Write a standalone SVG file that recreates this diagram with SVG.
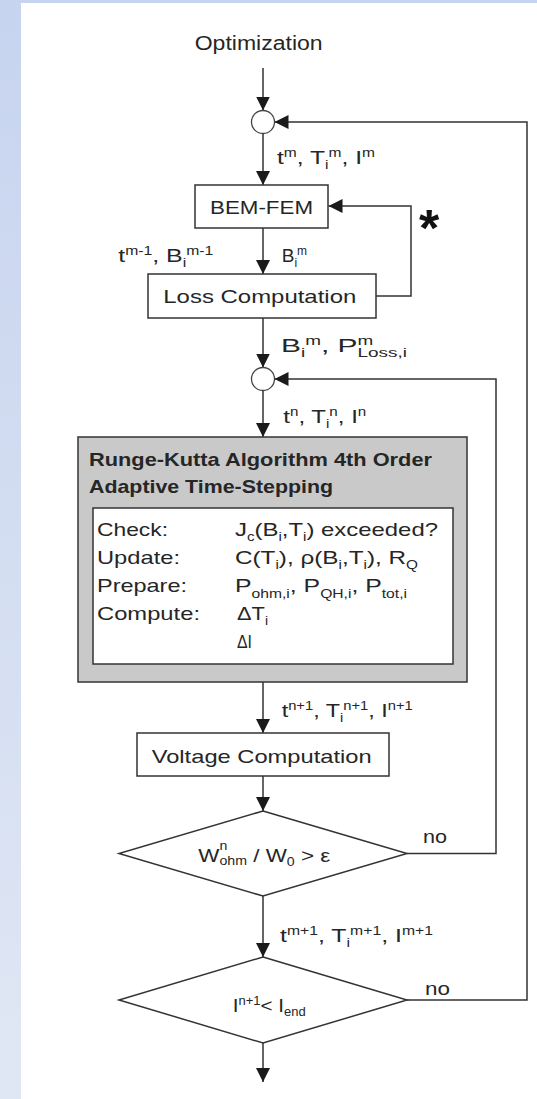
<svg xmlns="http://www.w3.org/2000/svg" width="537" height="1099" viewBox="0 0 537 1099">
<defs>
<linearGradient id="bg" x1="0" y1="0" x2="0" y2="1">
<stop offset="0" stop-color="#c7d4ef"/>
<stop offset="1" stop-color="#e0e7f4"/>
</linearGradient>
<marker id="ah" markerUnits="userSpaceOnUse" markerWidth="15" markerHeight="15" refX="14" refY="7" orient="auto">
<path d="M0,0 L14,7 L0,14 Z" fill="#1a1a1a"/>
</marker>
<style>
.t{font-family:"Liberation Sans",Arial,sans-serif;font-size:19px;fill:#262626}
.s{font-size:12px}
.b{font-weight:bold}
.ln{fill:none;stroke:#333;stroke-width:1.5}
.ar{marker-end:url(#ah)}
.bx{fill:#fff;stroke:#333;stroke-width:1.5}
</style>
</defs>
<rect x="0" y="0" width="537" height="1099" fill="url(#bg)"/>
<rect x="21" y="3" width="516" height="1096" fill="#fff"/>

<g id="connectors">
<path class="ln ar" d="M263,68 V110.5"/>
<path class="ln ar" d="M263,133.5 V185"/>
<path class="ln ar" d="M263,228 V274"/>
<path class="ln ar" d="M376,296 H411 V206 H328.5"/>
<path class="ln ar" d="M263,318 V367.5"/>
<path class="ln ar" d="M263,390.5 V437"/>
<path class="ln ar" d="M263,682 V733"/>
<path class="ln ar" d="M263,776 V811"/>
<path class="ln ar" d="M407,853.5 H496 V379 H274.5"/>
<path class="ln ar" d="M263,896 V957"/>
<path class="ln ar" d="M407,1000 H527 V122 H274.5"/>
<path class="ln ar" d="M263,1043 V1082"/>
</g>

<g id="optimization">
<text class="t" x="194.7" y="50" style="font-size:20px" textLength="128" lengthAdjust="spacingAndGlyphs">Optimization</text>
</g>

<g id="junction1">
<circle cx="263" cy="122" r="11.5" fill="#fff" stroke="#444" stroke-width="1.3"/>
</g>

<g id="label-tm">
<text class="t" x="277" y="164" textLength="98" lengthAdjust="spacingAndGlyphs">t<tspan class="s" dy="-7">m</tspan><tspan dy="7">, T</tspan><tspan class="s" dy="5">i</tspan><tspan class="s" dy="-12">m</tspan><tspan dy="7">, I</tspan><tspan class="s" dy="-7">m</tspan></text>
</g>

<g id="bem-fem">
<rect class="bx" x="195" y="185" width="133" height="43"/>
<text class="t" x="210" y="214" textLength="103" lengthAdjust="spacingAndGlyphs">BEM-FEM</text>
</g>

<g id="star">
<text class="t b" x="429" y="246" text-anchor="middle" style="font-size:52px;fill:#111">*</text>
</g>

<g id="label-tm1">
<text class="t" x="118.3" y="261.7" textLength="95" lengthAdjust="spacingAndGlyphs">t<tspan class="s" dy="-7">m-1</tspan><tspan dy="7">, B</tspan><tspan class="s" dy="5">i</tspan><tspan class="s" dy="-12">m-1</tspan></text>
</g>

<g id="label-bim">
<text class="t" x="281.7" y="261.7">B<tspan class="s" dy="5">i</tspan><tspan class="s" dy="-12">m</tspan></text>
</g>

<g id="loss-computation">
<rect class="bx" x="148" y="274" width="228" height="44"/>
<text class="t" x="163.3" y="303.3" textLength="193" lengthAdjust="spacingAndGlyphs">Loss Computation</text>
</g>

<g id="label-ploss">
<text class="t" x="281" y="352" textLength="126" lengthAdjust="spacingAndGlyphs">B<tspan class="s" dy="5">i</tspan><tspan class="s" dy="-12">m</tspan><tspan dy="7">, P</tspan><tspan class="s" dy="-7">m</tspan><tspan class="s" dx="-10" dy="12">Loss,i</tspan></text>
</g>

<g id="junction2">
<circle cx="263" cy="379" r="11.5" fill="#fff" stroke="#444" stroke-width="1.3"/>
</g>

<g id="label-tn">
<text class="t" x="283.3" y="423" textLength="83" lengthAdjust="spacingAndGlyphs">t<tspan class="s" dy="-7">n</tspan><tspan dy="7">, T</tspan><tspan class="s" dy="5">i</tspan><tspan class="s" dy="-12">n</tspan><tspan dy="7">, I</tspan><tspan class="s" dy="-7">n</tspan></text>
</g>

<g id="runge-kutta">
<rect x="78" y="437" width="389" height="245" fill="#c9c9c9" stroke="#333" stroke-width="1.5"/>
<text class="t b" x="89" y="466" textLength="343" lengthAdjust="spacingAndGlyphs">Runge-Kutta Algorithm 4th Order</text>
<text class="t b" x="89" y="493" textLength="244" lengthAdjust="spacingAndGlyphs">Adaptive Time-Stepping</text>
<rect class="bx" x="93" y="508" width="360" height="156"/>
<text class="t" x="97" y="536" textLength="71" lengthAdjust="spacingAndGlyphs">Check:</text>
<text class="t" x="97" y="564" textLength="83" lengthAdjust="spacingAndGlyphs">Update:</text>
<text class="t" x="97" y="592" textLength="90" lengthAdjust="spacingAndGlyphs">Prepare:</text>
<text class="t" x="97" y="620" textLength="103" lengthAdjust="spacingAndGlyphs">Compute:</text>
<text class="t" x="235" y="536" textLength="203" lengthAdjust="spacingAndGlyphs">J<tspan class="s" dy="5">c</tspan><tspan dy="-5">(B</tspan><tspan class="s" dy="5">i</tspan><tspan dy="-5">,T</tspan><tspan class="s" dy="5">i</tspan><tspan dy="-5">) exceeded?</tspan></text>
<text class="t" x="235" y="564" textLength="183" lengthAdjust="spacingAndGlyphs">C(T<tspan class="s" dy="5">i</tspan><tspan dy="-5">), ρ(B</tspan><tspan class="s" dy="5">i</tspan><tspan dy="-5">,T</tspan><tspan class="s" dy="5">i</tspan><tspan dy="-5">), R</tspan><tspan class="s" dy="5">Q</tspan></text>
<text class="t" x="235" y="592" textLength="172" lengthAdjust="spacingAndGlyphs">P<tspan class="s" dy="6">ohm,i</tspan><tspan dy="-6">, P</tspan><tspan class="s" dy="6">QH,i</tspan><tspan dy="-6">, P</tspan><tspan class="s" dy="6">tot,i</tspan></text>
<text class="t" x="237" y="620" textLength="31" lengthAdjust="spacingAndGlyphs">ΔT<tspan class="s" dy="5">i</tspan></text>
<text class="t" x="237" y="648" textLength="15" lengthAdjust="spacingAndGlyphs">ΔI</text>
</g>

<g id="label-tn1">
<text class="t" x="281.7" y="716.7" textLength="131" lengthAdjust="spacingAndGlyphs">t<tspan class="s" dy="-7">n+1</tspan><tspan dy="7">, T</tspan><tspan class="s" dy="5">i</tspan><tspan class="s" dy="-12">n+1</tspan><tspan dy="7">, I</tspan><tspan class="s" dy="-7">n+1</tspan></text>
</g>

<g id="voltage-computation">
<rect class="bx" x="137" y="733" width="252" height="43"/>
<text class="t" x="151.7" y="763.3" textLength="220" lengthAdjust="spacingAndGlyphs">Voltage Computation</text>
</g>

<g id="decision-energy">
<polygon class="bx" points="263,811 407,853.5 263,896 119,853.5"/>
<text class="t" x="198.3" y="861.7" textLength="132" lengthAdjust="spacingAndGlyphs">W<tspan class="s" dy="-12">n</tspan><tspan class="s" dx="-6.7" dy="15">ohm</tspan><tspan dy="-3"> / W</tspan><tspan class="s" dy="4">0</tspan><tspan dy="-4"> &gt; ε</tspan></text>
<text class="t" x="423" y="843" textLength="24" lengthAdjust="spacingAndGlyphs">no</text>
</g>

<g id="label-tm1b">
<text class="t" x="280" y="941.7" textLength="153" lengthAdjust="spacingAndGlyphs">t<tspan class="s" dy="-7">m+1</tspan><tspan dy="7">, T</tspan><tspan class="s" dy="5">i</tspan><tspan class="s" dy="-12">m+1</tspan><tspan dy="7">, I</tspan><tspan class="s" dy="-7">m+1</tspan></text>
</g>

<g id="decision-end">
<polygon class="bx" points="263,957 407,1000 263,1043 119,1000"/>
<text class="t" x="232.7" y="1011.7" textLength="73" lengthAdjust="spacingAndGlyphs">I<tspan class="s" dy="-7">n+1</tspan><tspan dy="7">&lt; I</tspan><tspan class="s" dy="4">end</tspan></text>
<text class="t" x="425" y="995" textLength="25" lengthAdjust="spacingAndGlyphs">no</text>
</g>
</svg>
